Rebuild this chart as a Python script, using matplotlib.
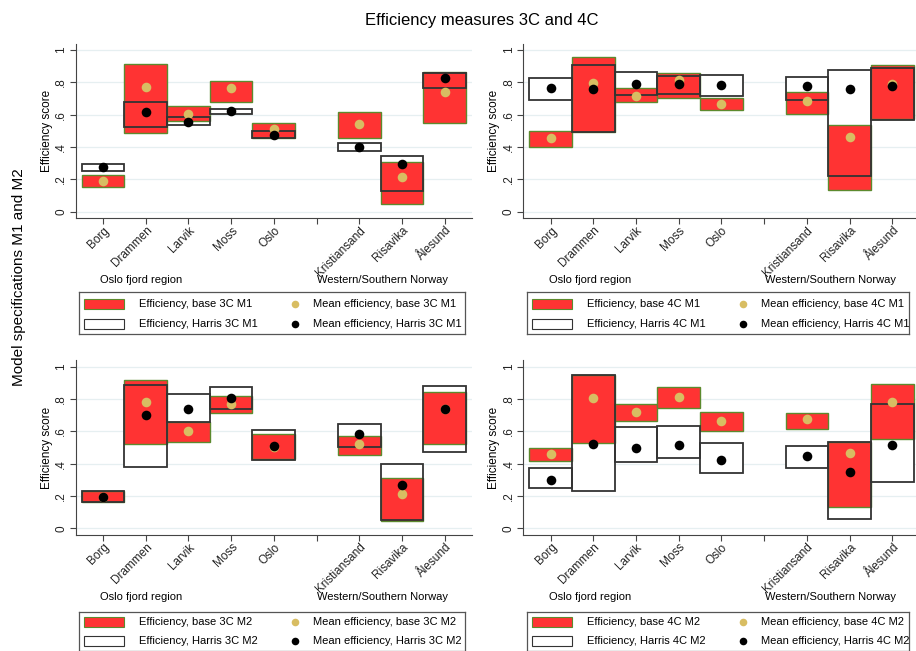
import numpy as np
import matplotlib.pyplot as plt
from matplotlib.patches import Rectangle

plt.rcParams['font.family'] = ['Liberation Sans', 'DejaVu Sans']

ports = ['Borg', 'Drammen', 'Larvik', 'Moss', 'Oslo', 'Kristiansand', 'Risavika', 'Ålesund']
xpos = [1, 2, 3, 4, 5, 7, 8, 9]

# 3C M1
b3m1_lo = [0.155, 0.487, 0.561, 0.678, 0.456, 0.456, 0.045, 0.551]
b3m1_hi = [0.227, 0.913, 0.654, 0.806, 0.551, 0.619, 0.309, 0.862]
b3m1_mean = [0.192, 0.773, 0.604, 0.767, 0.509, 0.544, 0.216, 0.742]
h3m1_lo = [0.254, 0.522, 0.536, 0.606, 0.456, 0.377, 0.126, 0.767]
h3m1_hi = [0.293, 0.676, 0.583, 0.637, 0.501, 0.423, 0.344, 0.858]
h3m1_mean = [0.276, 0.616, 0.555, 0.621, 0.474, 0.402, 0.295, 0.827]

# 4C M1
b4m1_lo = [0.398, 0.491, 0.676, 0.705, 0.627, 0.604, 0.134, 0.573]
b4m1_hi = [0.501, 0.955, 0.763, 0.860, 0.701, 0.740, 0.538, 0.905]
b4m1_mean = [0.458, 0.798, 0.718, 0.814, 0.668, 0.685, 0.464, 0.790]
h4m1_lo = [0.691, 0.491, 0.720, 0.726, 0.713, 0.689, 0.219, 0.567]
h4m1_hi = [0.825, 0.905, 0.864, 0.841, 0.843, 0.833, 0.874, 0.887]
h4m1_mean = [0.767, 0.757, 0.788, 0.790, 0.784, 0.779, 0.757, 0.779]

# 3C M2
b3m2_lo = [0.163, 0.520, 0.536, 0.711, 0.427, 0.454, 0.047, 0.520]
b3m2_hi = [0.233, 0.915, 0.656, 0.821, 0.581, 0.571, 0.309, 0.841]
b3m2_mean = [0.192, 0.779, 0.600, 0.769, 0.505, 0.522, 0.210, 0.736]
h3m2_lo = [0.163, 0.379, 0.656, 0.736, 0.423, 0.501, 0.052, 0.472]
h3m2_hi = [0.233, 0.889, 0.829, 0.876, 0.608, 0.647, 0.396, 0.878]
h3m2_mean = [0.192, 0.701, 0.740, 0.808, 0.511, 0.584, 0.266, 0.740]

# 4C M2
b4m2_lo = [0.419, 0.528, 0.662, 0.742, 0.602, 0.614, 0.134, 0.555]
b4m2_hi = [0.499, 0.951, 0.767, 0.872, 0.718, 0.711, 0.536, 0.893]
b4m2_mean = [0.462, 0.804, 0.718, 0.814, 0.664, 0.676, 0.464, 0.784]
h4m2_lo = [0.247, 0.231, 0.412, 0.437, 0.344, 0.375, 0.058, 0.285]
h4m2_hi = [0.373, 0.951, 0.627, 0.631, 0.526, 0.511, 0.536, 0.771]
h4m2_mean = [0.297, 0.522, 0.495, 0.515, 0.425, 0.447, 0.348, 0.515]

RED = '#ff3333'
GREEN = '#5c8a2e'
GOLD = '#d8bd62'
EDGE = '#333333'

W, H = 916, 651
fig = plt.figure(figsize=(W / 100, H / 100), dpi=100)


def px(x0, y_top, w, h):
    return [x0 / W, 1 - (y_top + h) / H, w / W, h / H]


def panel(rect, blo, bhi, bmean, hlo, hhi, hmean):
    ax = fig.add_axes(rect)
    blo, bhi, hlo, hhi = map(np.array, (blo, bhi, hlo, hhi))
    ax.bar(xpos, hhi - hlo, bottom=hlo, width=1, color='white', edgecolor='none', zorder=2)
    ax.bar(xpos, bhi - blo, bottom=blo, width=1, color=RED, edgecolor=GREEN, linewidth=1.0, zorder=3)
    ax.bar(xpos, hhi - hlo, bottom=hlo, width=1, color='none', edgecolor=EDGE, linewidth=1.3, zorder=4)
    ax.scatter(xpos, bmean, s=48, color=GOLD, zorder=5, linewidths=0)
    ax.scatter(xpos, hmean, s=48, color='black', zorder=6, linewidths=0)
    ax.set_xlim(0.36, 9.64)
    ax.set_ylim(-0.04, 1.04)
    ax.set_xticks(xpos[:5] + [6] + xpos[5:])
    ax.set_xticklabels(ports[:5] + [''] + ports[5:], rotation=45, ha='right',
                       rotation_mode='anchor', fontsize=8.5, color='#222222')
    ax.set_yticks([0, 0.2, 0.4, 0.6, 0.8, 1])
    ax.set_yticklabels(['0', '.2', '.4', '.6', '.8', '1'], rotation=90, va='center',
                       fontsize=8.5, color='#222222')
    ax.set_ylabel('Efficiency score', fontsize=8.5, labelpad=2)
    ax.yaxis.grid(True, color='#e6eff1', linewidth=0.9)
    ax.set_axisbelow(True)
    for s in ['top', 'right']:
        ax.spines[s].set_visible(False)
    for s in ['left', 'bottom']:
        ax.spines[s].set_color('#444444')
    ax.tick_params(length=4, color='#444444', width=0.8)
    ax.tick_params(axis='x', pad=0.5)
    ax.tick_params(axis='y', pad=2)
    return ax


def legend_box(x0, y_top, w, h, tag):
    lg = fig.add_axes(px(x0, y_top, w, h))
    lg.set_xlim(0, w)
    lg.set_ylim(h, 0)
    lg.set_xticks([])
    lg.set_yticks([])
    for s in lg.spines.values():
        s.set_color('#555555')
        s.set_linewidth(0.9)
    r1, r2 = h * 0.27, h * 0.75
    lg.add_patch(Rectangle((5, r1 - 5), 40, 10, facecolor=RED, edgecolor=GREEN, lw=0.8))
    lg.add_patch(Rectangle((5, r2 - 5), 40, 10, facecolor='white', edgecolor=EDGE, lw=0.8))
    lg.text(60, r1, 'Efficiency, base ' + tag, va='center', fontsize=8)
    lg.text(60, r2, 'Efficiency, Harris ' + tag, va='center', fontsize=8)
    lg.scatter([216], [r1], s=30, color=GOLD, linewidths=0)
    lg.scatter([216], [r2], s=30, color='black', linewidths=0)
    lg.text(234, r1, 'Mean efficiency, base ' + tag, va='center', fontsize=8)
    lg.text(234, r2, 'Mean efficiency, Harris ' + tag, va='center', fontsize=8)


top_y, bot_y, ax_h = 43.5, 360.2, 174.7
ax_w = 396.3
panel(px(75.7, top_y, ax_w, ax_h), b3m1_lo, b3m1_hi, b3m1_mean, h3m1_lo, h3m1_hi, h3m1_mean)
panel(px(523.3, top_y, ax_w, ax_h), b4m1_lo, b4m1_hi, b4m1_mean, h4m1_lo, h4m1_hi, h4m1_mean)
panel(px(75.7, bot_y, ax_w, ax_h), b3m2_lo, b3m2_hi, b3m2_mean, h3m2_lo, h3m2_hi, h3m2_mean)
panel(px(523.3, bot_y, ax_w, ax_h), b4m2_lo, b4m2_hi, b4m2_mean, h4m2_lo, h4m2_hi, h4m2_mean)

# region notes under each panel
for xl, xr, yy in [(100, 316.7, 280), (549, 765, 280), (100, 316.7, 596.7), (549, 765, 596.7)]:
    fig.text(xl / W, 1 - yy / H, 'Oslo fjord region', fontsize=8, va='center')
    fig.text(xr / W, 1 - yy / H, 'Western/Southern Norway', fontsize=8, va='center')

legend_box(79, 292.3, 386, 41.7, '3C M1')
legend_box(527.3, 292.3, 382, 41.7, '4C M1')
legend_box(79, 611.7, 386, 39, '3C M2')
legend_box(527.3, 611.7, 382, 39, '4C M2')

fig.text(482 / W, 1 - 20 / H, 'Efficiency measures 3C and 4C', fontsize=12, ha='center', va='center')
fig.text(19 / W, 1 - 277 / H, 'Model specifications M1 and M2', fontsize=11,
         rotation=90, ha='center', va='center')

fig.savefig('out.png', dpi=100)
